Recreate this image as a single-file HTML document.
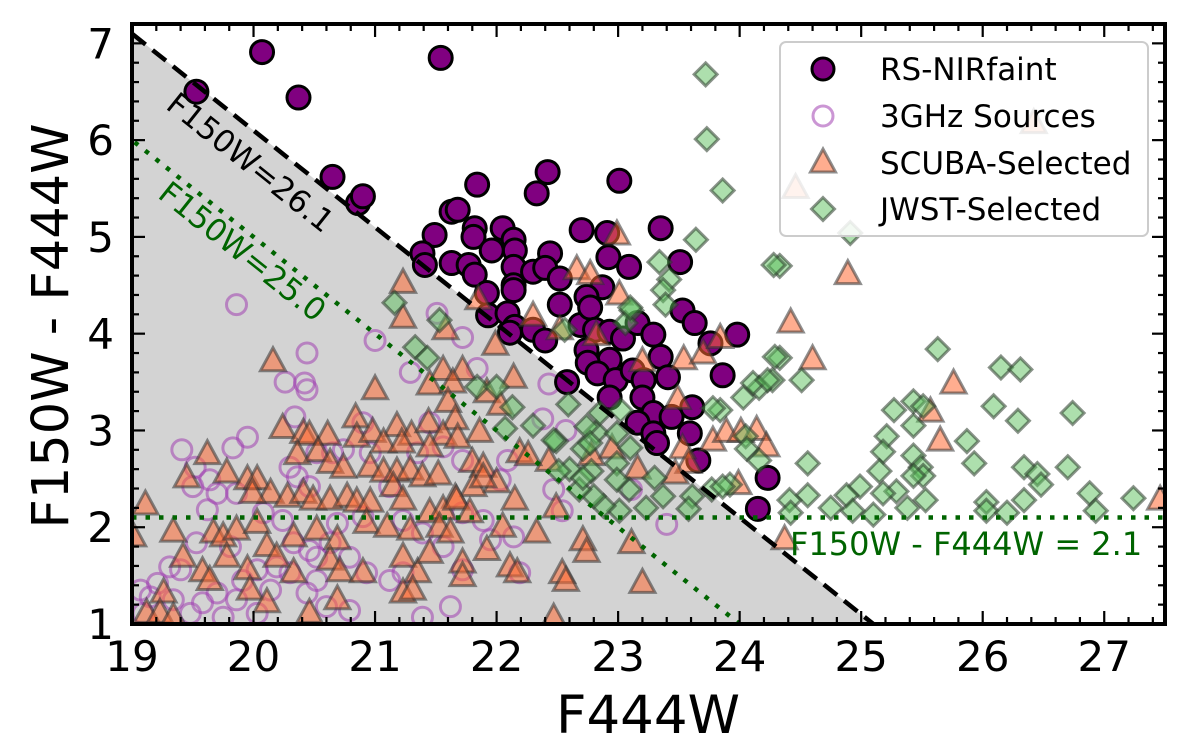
<!DOCTYPE html>
<html><head><meta charset="utf-8"><style>
html,body{margin:0;padding:0;background:#fff;}
svg{display:block;font-family:"DejaVu Sans","Liberation Sans",sans-serif;}
</style></head><body>
<svg id="chart" width="1200" height="738" viewBox="0 0 1200 738" xmlns="http://www.w3.org/2000/svg">
<defs><clipPath id="plotclip"><rect x="132" y="24" width="1033" height="600"/></clipPath></defs>
<g id="bg" clip-path="url(#plotclip)"></g>
<g id="marks" clip-path="url(#plotclip)"></g>
<g id="lines" clip-path="url(#plotclip)"></g>
<g id="axes"></g>
</svg>
<script>
const xTicks=[19,20,21,22,23,24,25,26,27];
const yTicks=[1,2,3,4,5,6,7];
const xDomain=[19,27.5], yDomain=[1,7.2];
const cutBright=26.1, cutFaint=25.0, colorCut=2.1;
const rsNirFaint=[[19.53,6.50],[20.07,6.91],[20.37,6.44],[21.54,6.85],[20.65,5.62],[20.86,5.35],[20.90,5.42],[22.42,5.67],[23.01,5.58],[22.33,5.45],[21.84,5.54],[21.63,5.26],[21.68,5.28],[21.49,5.02],[21.82,5.09],[21.81,5.00],[22.05,5.09],[22.14,4.97],[22.15,4.86],[21.96,4.86],[21.63,4.73],[21.77,4.71],[21.82,4.61],[21.39,4.83],[21.41,4.71],[22.44,4.83],[22.14,4.69],[22.14,4.50],[22.14,4.45],[22.30,4.64],[22.40,4.68],[22.52,4.57],[22.70,5.07],[22.91,5.04],[23.35,5.09],[22.92,4.79],[23.09,4.69],[23.51,4.74],[22.87,4.48],[22.74,4.38],[22.52,4.30],[21.92,4.42],[21.93,4.19],[22.09,4.21],[22.15,4.07],[22.11,4.01],[22.30,4.04],[22.40,3.93],[22.69,4.09],[22.77,4.27],[22.81,4.04],[22.93,4.02],[23.04,3.95],[23.16,4.11],[23.29,3.99],[23.53,4.24],[23.63,4.11],[23.76,3.90],[23.98,3.99],[22.74,3.83],[22.93,3.73],[22.75,3.70],[22.58,3.50],[22.83,3.59],[22.98,3.52],[23.12,3.62],[23.21,3.52],[23.35,3.76],[23.41,3.55],[23.86,3.57],[22.93,3.34],[23.20,3.34],[23.29,3.18],[23.44,3.14],[23.61,3.24],[23.16,3.08],[23.29,2.97],[23.32,2.87],[23.59,2.97],[23.66,2.69],[24.23,2.51],[24.15,2.19]];
const ghz3Sources=[[19.86,4.30],[20.44,3.80],[20.26,3.50],[20.42,3.49],[20.44,3.42],[20.34,3.14],[19.95,2.93],[19.83,2.82],[19.41,2.80],[19.52,2.62],[19.50,2.42],[19.64,2.49],[19.62,2.18],[19.70,2.35],[19.86,2.35],[20.08,2.15],[20.30,2.62],[20.36,2.52],[20.46,2.42],[20.52,2.77],[20.65,2.77],[20.74,2.80],[20.90,3.08],[20.96,2.77],[21.12,2.42],[21.35,2.77],[21.45,3.08],[21.56,2.83],[21.72,2.69],[22.03,2.49],[22.09,2.69],[21.51,4.21],[21.00,3.93],[21.72,3.96],[21.29,3.60],[21.84,3.64],[19.31,1.59],[19.53,1.84],[19.07,1.35],[19.21,1.42],[19.34,1.25],[19.58,1.22],[19.70,1.32],[19.86,1.25],[19.91,1.45],[20.19,1.59],[20.30,1.53],[20.44,1.32],[20.52,1.45],[20.52,1.69],[20.79,1.69],[20.93,1.53],[20.33,1.84],[20.46,1.76],[20.63,1.84],[20.69,2.04],[20.90,2.11],[21.23,2.07],[21.12,1.45],[21.23,1.53],[21.62,1.18],[21.72,1.56],[19.09,1.11],[19.15,1.28],[19.48,1.11],[19.75,1.07],[20.03,1.11],[20.60,1.18],[20.79,1.14],[21.39,1.07],[20.14,1.35],[20.03,1.56],[19.81,1.80],[19.40,1.56],[20.24,2.07],[21.39,1.94],[21.56,1.80],[21.72,2.15],[21.89,2.07],[21.95,1.87],[22.14,1.90],[22.19,1.53],[22.43,3.48],[22.57,3.00],[22.47,2.39],[22.54,2.17],[23.11,2.39],[23.40,2.03],[22.38,3.12]];
const scubaSelected=[[21.23,4.52],[21.23,4.16],[20.16,3.71],[21.00,3.42],[21.58,4.04],[21.99,3.88],[21.56,3.62],[21.72,3.62],[22.14,3.54],[21.45,3.47],[21.64,3.49],[21.60,3.29],[21.92,3.39],[22.03,3.26],[21.66,3.11],[21.86,2.98],[22.19,2.77],[21.80,2.67],[21.89,2.62],[22.00,2.46],[22.15,2.28],[21.81,2.42],[21.66,2.30],[20.24,3.02],[20.41,2.97],[20.46,2.95],[20.61,2.95],[20.84,3.13],[20.85,2.93],[20.98,2.98],[21.18,3.04],[21.30,2.95],[21.44,3.08],[21.56,2.95],[21.07,2.87],[21.22,2.87],[21.45,2.83],[21.68,2.92],[20.36,2.75],[20.53,2.78],[20.63,2.66],[20.74,2.61],[20.96,2.62],[21.07,2.57],[21.18,2.57],[21.29,2.59],[21.39,2.52],[21.52,2.54],[21.89,2.51],[19.62,2.75],[19.45,2.51],[19.78,2.56],[19.95,2.49],[20.03,2.49],[20.14,2.35],[19.99,2.35],[20.28,2.31],[20.41,2.35],[20.49,2.28],[20.63,2.28],[20.77,2.31],[20.85,2.26],[20.96,2.26],[21.15,2.42],[21.23,2.28],[21.45,2.15],[21.56,2.18],[21.67,2.28],[21.78,2.15],[19.11,2.23],[19.34,1.95],[19.67,1.94],[19.75,1.90],[19.86,1.97],[20.03,2.04],[20.33,1.90],[20.52,1.97],[20.69,1.87],[20.93,2.04],[21.10,2.00],[21.29,1.97],[21.53,2.00],[21.62,1.94],[22.05,2.00],[19.01,1.90],[19.42,1.69],[19.58,1.54],[19.64,1.45],[19.78,1.69],[19.95,1.56],[20.11,1.80],[20.19,1.69],[20.33,1.53],[20.63,1.66],[20.71,1.54],[20.90,1.53],[21.23,1.69],[21.35,1.53],[21.45,1.73],[21.72,1.63],[21.92,1.76],[22.11,1.59],[19.26,1.32],[19.97,1.35],[20.11,1.22],[20.69,1.25],[21.23,1.32],[21.31,1.35],[21.72,1.49],[19.12,1.11],[19.23,1.11],[19.34,1.07],[20.46,1.11],[22.17,1.53],[22.99,5.02],[22.66,4.66],[23.01,4.40],[22.30,4.18],[22.82,3.98],[23.20,3.71],[23.54,3.73],[23.70,3.79],[23.84,3.95],[24.42,4.11],[24.60,3.73],[24.89,4.61],[24.46,5.50],[25.76,3.48],[25.57,3.19],[25.65,2.89],[26.42,6.17],[23.49,3.32],[23.78,2.89],[23.89,2.98],[24.01,2.98],[24.14,3.00],[24.22,2.83],[23.53,2.81],[23.58,2.66],[23.47,2.55],[23.99,2.44],[23.16,2.60],[22.95,2.81],[22.78,2.74],[22.43,2.68],[22.26,2.74],[22.49,2.20],[22.33,1.94],[22.71,1.86],[22.74,1.74],[23.11,1.83],[23.20,1.42],[22.54,1.52],[22.57,1.44],[22.47,1.06],[27.46,2.28],[24.37,1.87],[21.85,4.35],[22.52,4.04],[22.77,4.61]];
const jwstSelected=[[23.72,6.68],[23.73,6.01],[23.86,5.48],[23.64,4.97],[23.34,4.74],[23.42,4.56],[23.37,4.45],[23.39,4.30],[23.11,4.24],[23.06,4.11],[24.33,4.70],[24.91,5.04],[24.33,3.75],[24.51,3.52],[24.27,3.52],[24.16,3.44],[24.03,3.34],[23.84,3.21],[25.63,3.84],[26.15,3.65],[26.31,3.63],[26.09,3.25],[26.29,3.10],[26.74,3.18],[25.27,3.21],[25.43,3.30],[25.51,3.25],[25.43,3.05],[25.21,2.94],[25.18,2.78],[25.15,2.58],[25.43,2.74],[25.49,2.62],[25.51,2.53],[25.43,2.53],[25.53,2.28],[25.38,2.20],[25.29,2.37],[25.18,2.35],[24.99,2.42],[24.88,2.33],[24.93,2.17],[24.75,2.20],[25.10,2.13],[24.56,2.66],[24.56,2.33],[24.41,2.28],[24.42,2.15],[25.87,2.89],[25.93,2.66],[26.34,2.62],[26.45,2.55],[26.48,2.44],[26.34,2.28],[26.03,2.26],[26.03,2.17],[26.20,2.15],[26.70,2.62],[26.88,2.35],[26.93,2.17],[27.24,2.30],[23.77,2.39],[23.92,2.44],[23.78,3.23],[24.05,2.94],[24.06,2.81],[24.16,2.69],[23.86,2.42],[23.61,2.32],[23.58,2.19],[23.37,2.32],[23.30,2.51],[23.23,2.20],[23.01,2.17],[22.88,2.22],[22.80,2.32],[22.68,2.39],[22.60,2.60],[22.49,2.89],[22.71,2.81],[22.82,2.98],[22.85,3.18],[22.59,3.27],[22.30,3.05],[22.51,2.58],[22.78,2.58],[22.99,2.66],[23.09,2.39],[22.99,2.49],[22.71,2.51],[21.16,4.32],[21.33,3.86],[21.43,3.75],[21.53,4.14],[21.84,3.45],[22.00,3.45],[22.13,3.24],[22.07,3.02],[22.47,2.90],[22.74,3.04],[22.77,2.87],[23.02,3.21],[22.99,2.97],[23.10,2.82],[22.56,4.04],[23.10,4.27],[24.28,4.71],[24.29,3.76],[24.11,3.49],[24.23,3.52]];

const L=132,R=1165,T=24,B=624;
const sx=v=>L+(v-xDomain[0])/(xDomain[1]-xDomain[0])*(R-L);
const sy=v=>B-(v-yDomain[0])/(yDomain[1]-yDomain[0])*(B-T);
const NS="http://www.w3.org/2000/svg";
function mk(tag,attrs,parent){const e=document.createElementNS(NS,tag);for(const k in attrs)e.setAttribute(k,attrs[k]);parent.appendChild(e);return e;}
const bg=document.getElementById('bg'),marks=document.getElementById('marks'),lines=document.getElementById('lines'),axes=document.getElementById('axes');

let shade=mk('polygon',{points:`${sx(19)},${sy(cutBright-19)} ${sx(cutBright-1)},${sy(1)} ${sx(19)},${sy(1)}`,fill:'#d3d3d3'},bg);



function circle(d,g,name,r,fill,stroke,sw,op){const e=mk('circle',{cx:sx(d[0]),cy:sy(d[1]),r:r,fill:fill,stroke:stroke,'stroke-width':sw,opacity:op},g);

}
function triPts(x,y){return `${x},${y-14} ${x+12.5},${y+9} ${x-12.5},${y+9}`;}
function diaPts(x,y){return `${x},${y-11.5} ${x+11.5},${y} ${x},${y+11.5} ${x-11.5},${y}`;}
function tri(d,g){const e=mk('polygon',{points:triPts(sx(d[0]),sy(d[1])),fill:'#ff6a33','fill-opacity':0.55,stroke:'#333','stroke-opacity':0.55,'stroke-width':3},g);

}
function dia(d,g){const e=mk('polygon',{points:diaPts(sx(d[0]),sy(d[1])),fill:'#5cbf5c','fill-opacity':0.5,stroke:'#2a3a2a','stroke-opacity':0.55,'stroke-width':3},g);

}

ghz3Sources.forEach(d=>circle(d,marks,'3ghz-point',10,'none','#a040b0',3,0.55));
rsNirFaint.forEach(d=>circle(d,marks,'rs-nirfaint-point',11.5,'#800080','#000',3,1));
scubaSelected.forEach(d=>tri(d,marks));
jwstSelected.forEach(d=>dia(d,marks));

let l1=mk('line',{x1:sx(18.5),y1:sy(cutBright-18.5),x2:sx(cutBright-0.5),y2:sy(0.5),stroke:'#000','stroke-width':4.5,'stroke-dasharray':'17,9'},lines);


let l2=mk('line',{x1:sx(18.5),y1:sy(cutFaint-18.5),x2:sx(cutFaint-0.5),y2:sy(0.5),stroke:'#006400','stroke-width':4.5,'stroke-dasharray':'4.5,9'},lines);


let l3=mk('line',{x1:L,y1:sy(colorCut),x2:R,y2:sy(colorCut),stroke:'#006400','stroke-width':4.5,'stroke-dasharray':'4.5,9'},lines);


const ang=Math.atan((sy(1)-sy(2))/(sx(2)-sx(1)))*180/Math.PI;
let t1=mk('text',{x:0,y:0,'font-size':31,fill:'#000','text-anchor':'middle','dominant-baseline':'central',transform:`translate(250,163) rotate(${ang})`},lines);t1.textContent='F150W=26.1';


let t2=mk('text',{x:0,y:0,'font-size':31,fill:'#006400','text-anchor':'middle','dominant-baseline':'central',transform:`translate(242,252) rotate(${ang})`},lines);t2.textContent='F150W=25.0';


let t3=mk('text',{x:790,y:555,'font-size':32,fill:'#006400'},lines);t3.textContent='F150W - F444W = 2.1';



for(let v=19;v<=27.5001;v+=0.2){const x=sx(v);const major=Math.abs(v-Math.round(v))<1e-6;const len=major?13:7;
mk('line',{x1:x,y1:B,x2:x,y2:B-len,stroke:'#000','stroke-width':2.2},axes);mk('line',{x1:x,y1:T,x2:x,y2:T+len,stroke:'#000','stroke-width':2.2},axes);}
for(let v=1;v<=7.2001;v+=0.2){const y=sy(v);const major=Math.abs(v-Math.round(v))<1e-6;const len=major?13:7;
mk('line',{x1:L,y1:y,x2:L+len,y2:y,stroke:'#000','stroke-width':2.2},axes);mk('line',{x1:R,y1:y,x2:R-len,y2:y,stroke:'#000','stroke-width':2.2},axes);}
xTicks.forEach(v=>{const t=mk('text',{x:sx(v),y:671,'font-size':42,'text-anchor':'middle',fill:'#000'},axes);t.textContent=String(v);

});
yTicks.forEach(v=>{const t=mk('text',{x:114,y:sy(v)+15,'font-size':42,'text-anchor':'end',fill:'#000'},axes);t.textContent=String(v);

});
let fr=mk('rect',{x:L,y:T,width:R-L,height:B-T,fill:'none',stroke:'#000','stroke-width':4},axes);


let xl=mk('text',{x:648,y:733,'font-size':53,'text-anchor':'middle',fill:'#000'},axes);xl.textContent='F444W';


let yl=mk('text',{x:0,y:0,'font-size':51,'text-anchor':'middle',fill:'#000',transform:'translate(68,326) rotate(-90)'},axes);yl.textContent='F150W - F444W';



const lg=mk('g',{},axes);


mk('rect',{x:780,y:42,width:368,height:194,rx:6,fill:'#fff','fill-opacity':0.85,stroke:'#ccc','stroke-width':2},lg);
const legendLabels=['RS-NIRfaint','3GHz Sources','SCUBA-Selected','JWST-Selected'];
const rows=[69,116,163,209];
circle([0,0],lg,'legend-rs-marker',11,'#800080','#000',3,1);lg.lastChild.setAttribute('cx',823);lg.lastChild.setAttribute('cy',rows[0]);
circle([0,0],lg,'legend-3ghz-marker',10,'none','#a040b0',3,0.55);lg.lastChild.setAttribute('cx',823);lg.lastChild.setAttribute('cy',rows[1]);
{const e=mk('polygon',{points:triPts(823,rows[2]),fill:'#ff6a33','fill-opacity':0.55,stroke:'#333','stroke-opacity':0.55,'stroke-width':3},lg);

}
{const e=mk('polygon',{points:diaPts(823,rows[3]),fill:'#5cbf5c','fill-opacity':0.5,stroke:'#2a3a2a','stroke-opacity':0.55,'stroke-width':3},lg);

}
legendLabels.forEach((s,i)=>{const t=mk('text',{x:880,y:rows[i]+11,'font-size':31,fill:'#000'},lg);t.textContent=s;

});
</script>
</body></html>
